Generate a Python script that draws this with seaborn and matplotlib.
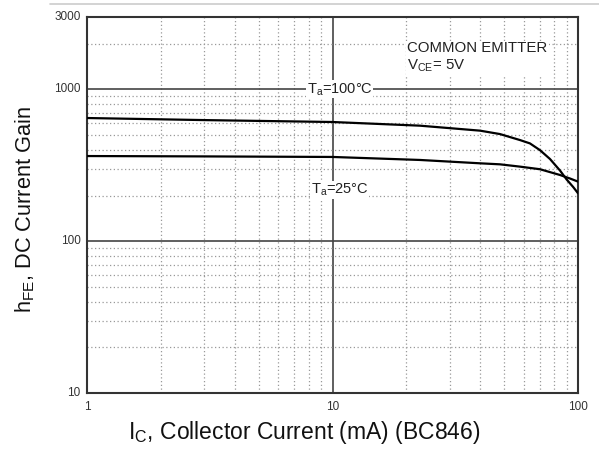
import matplotlib
matplotlib.use("Agg")
import matplotlib.pyplot as plt
import matplotlib.ticker as mticker
from matplotlib.lines import Line2D
from matplotlib.transforms import ScaledTranslation
import seaborn as sns
import pandas as pd

# ---- data ----
ic_100 = [1, 3, 10, 22.7, 39.9, 48.1, 58.0, 63.7, 70.0, 76.9, 84.5, 89.9, 95.7, 100]
hfe_100 = [648, 628, 610, 577, 535, 508, 464, 441, 398, 348, 292, 255, 227, 207]
ic_25 = [1, 3, 10, 22.7, 39.9, 48.1, 58.0, 70.0, 84.5, 92.7, 100]
hfe_25 = [364, 362, 359, 343, 326, 321, 310, 298, 273, 259, 247]

x_ticks = [1, 10, 100]
x_tick_labels = ["1", "10", "100"]
y_ticks = [10, 100, 1000, 3000]
y_tick_labels = ["10", "100", "1000", "3000"]

label_100 = "T$_a$=100°C"
label_25 = "T$_a$=25°C"
cond_text = "COMMON EMITTER\nV$_{CE}$= 5V"
x_label = "I$_C$, Collector Current (mA) (BC846)"
y_label = "h$_{FE}$, DC Current Gain"

df = pd.concat([
    pd.DataFrame({"Ic": ic_100, "hfe": hfe_100, "T": "100"}),
    pd.DataFrame({"Ic": ic_25, "hfe": hfe_25, "T": "25"}),
])

sns.set_theme(style="white")
plt.rcParams["font.family"] = ["Liberation Sans", "DejaVu Sans"]
plt.rcParams["mathtext.default"] = "regular"

fig = plt.figure(figsize=(5.99, 4.49), dpi=100)
ax = fig.add_axes([87 / 599, 1 - 393 / 449, (578 - 87) / 599, (393 - 17) / 449])

sns.lineplot(data=df, x="Ic", y="hfe", hue="T", palette=["black", "black"],
             linewidth=1.6, legend=False, ax=ax, zorder=5, sort=True,
             estimator=None)

ax.set_xscale("log")
ax.set_yscale("log")
ax.set_xlim(1, 100)
ax.set_ylim(10, 3000)

ax.xaxis.set_major_locator(mticker.FixedLocator(x_ticks))
ax.xaxis.set_major_formatter(mticker.FixedFormatter(x_tick_labels))
ax.yaxis.set_major_locator(mticker.FixedLocator(y_ticks))
ax.yaxis.set_major_formatter(mticker.FixedFormatter(y_tick_labels))
ax.xaxis.set_minor_locator(mticker.LogLocator(base=10, subs=range(2, 10)))
ax.yaxis.set_minor_locator(mticker.LogLocator(base=10, subs=range(2, 10)))
ax.xaxis.set_minor_formatter(mticker.NullFormatter())
ax.yaxis.set_minor_formatter(mticker.NullFormatter())

ax.grid(which="major", color="#444444", linewidth=1.2, linestyle="-")
ax.grid(which="minor", color="#999999", linewidth=0.9, linestyle=(0, (1, 2)))
ax.set_axisbelow(True)

ax.tick_params(which="both", length=0)
ax.tick_params(axis="y", pad=4.5, labelsize=8.5, labelcolor="#333333")
ax.tick_params(axis="x", pad=5.5, labelsize=8.5, labelcolor="#333333")
shift_up = ScaledTranslation(0, 2 / 100, fig.dpi_scale_trans)
for lab in ax.get_yticklabels():
    lab.set_transform(lab.get_transform() + shift_up)

for s in ax.spines.values():
    s.set_color("#333333")
    s.set_linewidth(1.5)
    s.set_visible(True)

ax.set_xlabel(x_label, fontsize=16.5, color="#111111", va="center")
ax.xaxis.set_label_coords((304 - 87) / 491, (393 - 432) / 376)
ax.set_ylabel(y_label, fontsize=15.7, color="#111111", va="center")
ax.yaxis.set_label_coords((25 - 87) / 491, (393 - 210) / 376)

bbox = dict(facecolor="white", edgecolor="none", pad=0.5)
ax.text(10.7, 1000, label_100, fontsize=10.5, ha="center", va="center",
        bbox=bbox, zorder=6, color="#222222")
ax.text(10.7, 217, label_25, fontsize=10.5, ha="center", va="center",
        bbox=bbox, zorder=6, color="#222222")
ax.text(20.1, 1622, cond_text, fontsize=10.8, ha="left", va="center",
        linespacing=1.25, color="#222222", zorder=6,
        bbox=dict(facecolor="white", edgecolor="none", pad=1))

fig.add_artist(Line2D([50 / 599, 1], [1 - 4 / 449, 1 - 4 / 449],
                      color="#cccccc", linewidth=1.2))

fig.savefig("out.png", dpi=100)
